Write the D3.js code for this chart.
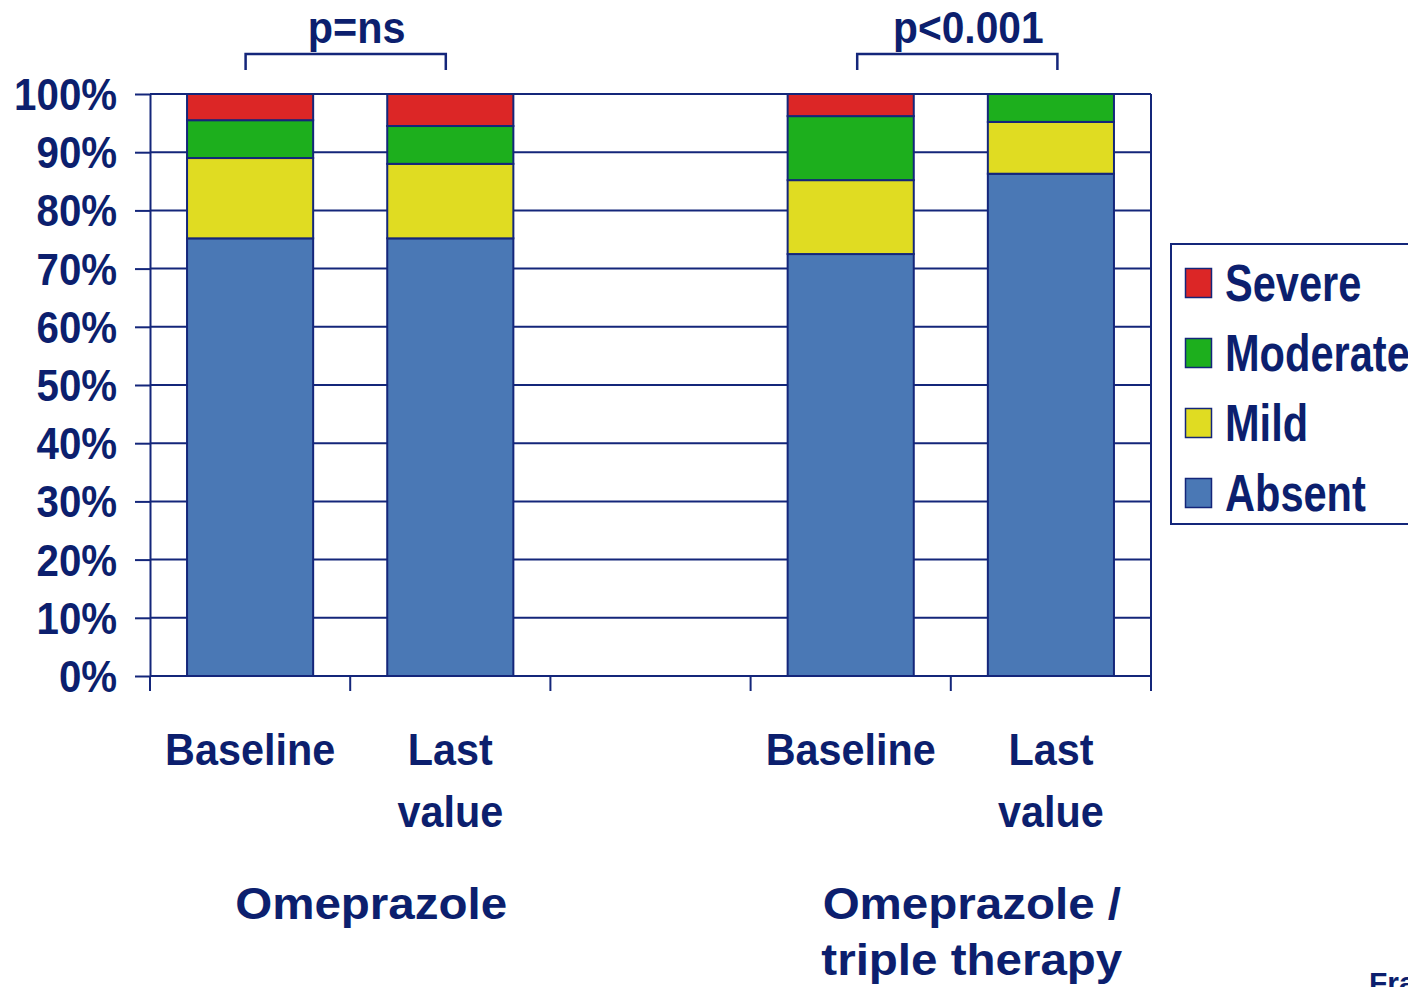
<!DOCTYPE html>
<html>
<head>
<meta charset="utf-8">
<script src="https://cdn.jsdelivr.net/npm/d3@7"></script>
<style>
  html, body { margin: 0; padding: 0; background: #fff; }
  svg { display: block; }
  text { font-family: "Liberation Sans", Arial, sans-serif; font-weight: bold; fill: #0c1f6e; }
</style>
</head>
<body>
<svg id="chart" width="1408" height="987"></svg>
<script>
// ---- data ----
const categories = ["Baseline", "Last\nvalue", "", "Baseline", "Last\nvalue"];
const seriesNames = ["Absent", "Mild", "Moderate", "Severe"];
const absent   = [75.2, 75.2, null, 72.5, 86.3];
const mild     = [13.8, 12.8, null, 12.7, 8.9];
const moderate = [6.5,  6.5,  null, 11.0, 4.8];
const severe   = [4.5,  5.5,  null, 3.8,  0.0];
const yTicks = [0, 10, 20, 30, 40, 50, 60, 70, 80, 90, 100];
const groupLabels = [["Omeprazole"], ["Omeprazole /", "triple therapy"]];
const groupMembers = [[0, 1], [3, 4]];
const pValues = ["p=ns", "p<0.001"];
const sourceNote = "Fra";

// ---- styles ----
const NAVY = "#14267a";
const colors = { Absent: "#4a78b5", Mild: "#e0dc22", Moderate: "#1daf1d", Severe: "#dc2626" };
const bracketShift = [-4.5, 6.5];

const svg = d3.select("#chart");
const pLeft = 150, pRight = 1151, pTop = 94, pBottom = 676;

const x = d3.scaleBand()
  .domain(d3.range(categories.length))
  .range([pLeft, pRight])
  .paddingInner(0.37)
  .paddingOuter(0.185);
const y = d3.scaleLinear().domain([0, 100]).range([pBottom, pTop]);

function txt(parent, str, tx, ty, size, anchor, sx) {
  return parent.append("text")
    .attr("transform", `translate(${tx},${ty}) scale(${sx},1)`)
    .attr("text-anchor", anchor)
    .style("font-size", size + "px")
    .text(str);
}

// gridlines
svg.append("g").selectAll("line").data(yTicks).join("line")
  .attr("x1", pLeft).attr("x2", pRight)
  .attr("y1", d => y(d)).attr("y2", d => y(d))
  .attr("stroke", NAVY).attr("stroke-width", 2);

// stacked bars
const rows = categories.map((c, i) => ({
  i, Absent: absent[i], Mild: mild[i], Moderate: moderate[i], Severe: severe[i]
})).filter(r => r.Absent !== null);
const stack = d3.stack().keys(seriesNames)(rows);

svg.append("g").selectAll("g").data(stack).join("g")
  .attr("fill", d => colors[d.key])
  .selectAll("rect").data(d => d.filter(s => s[1] - s[0] > 0)).join("rect")
  .attr("x", d => x(d.data.i))
  .attr("width", x.bandwidth())
  .attr("y", d => y(d[1]))
  .attr("height", d => y(d[0]) - y(d[1]))
  .attr("stroke", NAVY).attr("stroke-width", 2);

// left axis
const yAxis = svg.append("g")
  .attr("transform", `translate(${pLeft},0)`)
  .call(d3.axisLeft(y).tickValues(yTicks).tickFormat(d => d + "%").tickSize(15).tickSizeOuter(0).tickPadding(21));
yAxis.attr("font-family", null).attr("font-size", null);
yAxis.select(".domain").attr("stroke", NAVY).attr("stroke-width", 2);
yAxis.selectAll(".tick line").attr("stroke", NAVY).attr("stroke-width", 2);
yAxis.selectAll(".tick text")
  .attr("fill", null)
  .attr("dy", "0.35em")
  .attr("transform", "scale(0.915,1)")
  .style("font-size", "44px");

// right border
svg.append("line").attr("x1", pRight).attr("x2", pRight).attr("y1", pTop).attr("y2", pBottom)
  .attr("stroke", NAVY).attr("stroke-width", 2);

// bottom ticks at band boundaries
const boundaries = d3.range(categories.length).map(i => x(i) - x.step() * x.paddingInner() / 2).concat([pRight]);
svg.append("g").selectAll("line").data(boundaries).join("line")
  .attr("x1", d => d).attr("x2", d => d)
  .attr("y1", pBottom).attr("y2", pBottom + 15)
  .attr("stroke", NAVY).attr("stroke-width", 2);

// category labels
categories.forEach((c, i) => {
  if (!c) return;
  const cx = x(i) + x.bandwidth() / 2;
  c.split("\n").forEach((line, j) => {
    txt(svg, line, cx, 765 + j * 62, 44, "middle", 0.94);
  });
});

// group labels
groupLabels.forEach((lines, g) => {
  const mem = groupMembers[g];
  const cx = (x(mem[0]) + x(mem[1]) + x.bandwidth()) / 2 + 21;
  lines.forEach((line, j) => {
    txt(svg, line, cx, 919 + j * 56, 44, "middle", 1.08);
  });
});

// significance brackets
pValues.forEach((p, g) => {
  const mem = groupMembers[g];
  const x1 = x(mem[0]) + x.bandwidth() / 2 + bracketShift[g];
  const x2 = x(mem[1]) + x.bandwidth() / 2 + bracketShift[g];
  svg.append("path")
    .attr("d", `M${x1},70 V54 H${x2} V70`)
    .attr("fill", "none").attr("stroke", NAVY).attr("stroke-width", 2.5);
  txt(svg, p, (x1 + x2) / 2 + 11, 42.5, 45, "middle", g === 0 ? 0.92 : 0.905);
});

// legend
const lg = svg.append("g");
lg.append("rect").attr("x", 1171).attr("y", 244).attr("width", 300).attr("height", 280)
  .attr("fill", "#fff").attr("stroke", NAVY).attr("stroke-width", 2);
seriesNames.slice().reverse().forEach((name, k) => {
  lg.append("rect").attr("x", 1185.5).attr("y", 268.5 + k * 70).attr("width", 26).attr("height", 29)
    .attr("fill", colors[name]).attr("stroke", NAVY).attr("stroke-width", 1.5);
  txt(lg, name, 1225, 301 + k * 70, 51, "start", 0.815);
});

// source note (clipped at the page edge, as in the reference)
txt(svg, sourceNote, 1369, 993, 30, "start", 1);
</script>
</body>
</html>
